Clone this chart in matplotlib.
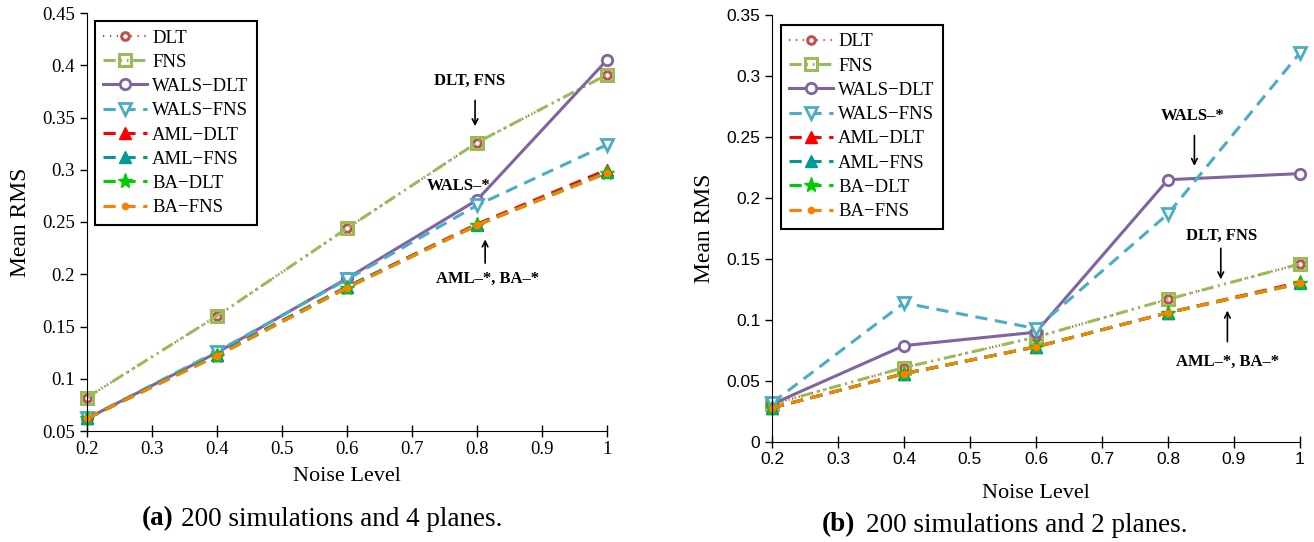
import numpy as np
import matplotlib.pyplot as plt

# noise levels on the x axis
noise = [0.2, 0.4, 0.6, 0.8, 1.0]

# (a) 200 simulations, 4 planes
a_dlt = [0.082, 0.160, 0.244, 0.326, 0.391]
a_fns = [0.082, 0.160, 0.244, 0.326, 0.391]
a_wals_dlt = [0.062, 0.125, 0.196, 0.271, 0.405]
a_wals_fns = [0.062, 0.126, 0.195, 0.266, 0.324]
a_aml_dlt = [0.062, 0.123, 0.188, 0.248, 0.300]
a_aml_fns = [0.062, 0.123, 0.188, 0.247, 0.298]
a_ba_dlt = [0.062, 0.122, 0.187, 0.247, 0.297]
a_ba_fns = [0.062, 0.122, 0.187, 0.247, 0.297]

# (b) 200 simulations, 2 planes
b_dlt = [0.031, 0.061, 0.086, 0.117, 0.146]
b_fns = [0.031, 0.061, 0.086, 0.117, 0.146]
b_wals_dlt = [0.031, 0.079, 0.090, 0.215, 0.220]
b_wals_fns = [0.032, 0.114, 0.093, 0.187, 0.319]
b_aml_dlt = [0.028, 0.056, 0.078, 0.106, 0.131]
b_aml_fns = [0.028, 0.056, 0.078, 0.106, 0.130]
b_ba_dlt = [0.028, 0.056, 0.078, 0.106, 0.130]
b_ba_fns = [0.028, 0.056, 0.078, 0.106, 0.130]

names = ['DLT', 'FNS', 'WALS\u2212DLT', 'WALS\u2212FNS',
         'AML\u2212DLT', 'AML\u2212FNS', 'BA\u2212DLT', 'BA\u2212FNS']

# line styles per method
styles = [
    dict(color='#c0504d', ls=(0, (0.6, 2.5)), lw=1.6, marker='o', ms=5.5, mfc='white', mew=2.2),
    dict(color='#9bbb59', ls=(0, (4, 1.5, 0.6, 1.5, 0.6, 1.5)), lw=2.2, marker='s', ms=8, mfc='none', mew=2.2),
    dict(color='#8064a2', ls='-', lw=2.2, marker='o', ms=7.5, mfc='white', mew=2.0),
    dict(color='#4bacc6', ls=(0, (4, 2.5)), lw=2.2, marker='v', ms=8.5, mfc='white', mew=2.0),
    dict(color='#ff0000', ls=(0, (4, 2.5)), lw=2.2, marker='^', ms=8.5, mfc='#ff0000', mew=1),
    dict(color='#009999', ls=(0, (4, 2.5)), lw=2.2, marker='^', ms=8.5, mfc='#009999', mew=1),
    dict(color='#00cc00', ls=(0, (4, 2.5)), lw=2.2, marker='*', ms=11, mfc='#00cc00', mew=1),
    dict(color='#ff7f00', ls=(0, (4, 2.5)), lw=2.2, marker='o', ms=4.5, mfc='#ff7f00', mew=1),
]

serif = 'Liberation Serif'
sans = 'Liberation Sans'

fig = plt.figure(figsize=(13.14, 5.42), dpi=100)
W, H = 1314, 542


def px_axes(x0, x1, ytop, ybot):
    return fig.add_axes([x0 / W, 1 - ybot / H, (x1 - x0) / W, (ybot - ytop) / H])


def draw(ax, series, tickfont, tsize):
    for vals, name, st in zip(series, names, styles):
        ax.plot(noise, vals, label=name, clip_on=False, **st)
    for s in ['top', 'right']:
        ax.spines[s].set_visible(False)
    ax.set_xlim(0.2, 1.0)
    ax.set_xticks([0.2, 0.3, 0.4, 0.5, 0.6, 0.7, 0.8, 0.9, 1.0])
    ax.set_xticklabels(['0.2', '0.3', '0.4', '0.5', '0.6', '0.7', '0.8', '0.9', '1'])
    for lab in ax.get_xticklabels() + ax.get_yticklabels():
        lab.set_fontfamily(tickfont)
        lab.set_fontsize(tsize)
    ax.tick_params(axis='y', direction='out', length=5, width=1)
    ax.tick_params(axis='x', direction='inout', length=8, width=1)
    ax.set_xlabel('Noise Level', fontfamily=serif, fontsize=16)
    ax.set_ylabel('Mean RMS', fontfamily=serif, fontsize=17)
    leg = ax.legend(loc='upper left', borderaxespad=0,
                    prop={'family': serif, 'size': 13.5}, handlelength=2.3,
                    handletextpad=0.3, fancybox=False, edgecolor='black',
                    framealpha=1, labelspacing=0.38, borderpad=0.45)
    leg.get_frame().set_linewidth(1.5)
    return leg


bold = dict(fontfamily=serif, fontweight='bold', fontsize=12, ha='center', va='center')
arr = dict(arrowstyle='->', color='black', lw=1.2)

# ---- (a) ----
ax1 = px_axes(87, 607, 13, 431)
ax1.set_ylim(0.05, 0.45)
ax1.set_yticks([0.05, 0.1, 0.15, 0.2, 0.25, 0.3, 0.35, 0.4, 0.45])
ax1.set_yticklabels(['0.05', '0.1', '0.15', '0.2', '0.25', '0.3', '0.35', '0.4', '0.45'])
leg1 = draw(ax1, [a_dlt, a_fns, a_wals_dlt, a_wals_fns, a_aml_dlt, a_aml_fns, a_ba_dlt, a_ba_fns],
            serif, 13.5)
leg1.set_bbox_to_anchor((0.0155, 0.981), transform=ax1.transAxes)
ax1.xaxis.labelpad = 6
ax1.yaxis.labelpad = 8

ax1.text(0.789, 0.385, 'DLT, FNS', **bold)
ax1.annotate('', xy=(0.797, 0.339), xytext=(0.797, 0.369), arrowprops=arr)
ax1.text(0.772, 0.284, 'WALS\u2013*', **bold)
ax1.text(0.817, 0.196, 'AML\u2013*, BA\u2013*', **bold)
ax1.annotate('', xy=(0.8125, 0.236), xytext=(0.8125, 0.208), arrowprops=arr)

# ---- (b) ----
ax2 = px_axes(772, 1300, 15, 442)
ax2.set_ylim(0, 0.35)
ax2.set_yticks([0, 0.05, 0.1, 0.15, 0.2, 0.25, 0.3, 0.35])
ax2.set_yticklabels(['0', '0.05', '0.1', '0.15', '0.2', '0.25', '0.3', '0.35'])
leg2 = draw(ax2, [b_dlt, b_fns, b_wals_dlt, b_wals_fns, b_aml_dlt, b_aml_fns, b_ba_dlt, b_ba_fns],
            sans, 12.5)
leg2.set_bbox_to_anchor((0.017, 0.977), transform=ax2.transAxes)
ax2.xaxis.labelpad = 12
ax2.yaxis.labelpad = 8

ax2.text(0.838, 0.267, 'WALS\u2013*', **bold)
ax2.annotate('', xy=(0.84, 0.224), xytext=(0.84, 0.2535), arrowprops=arr)
ax2.text(0.882, 0.169, 'DLT, FNS', **bold)
ax2.annotate('', xy=(0.88, 0.131), xytext=(0.88, 0.161), arrowprops=arr)
ax2.text(0.89, 0.0656, 'AML\u2013*, BA\u2013*', **bold)
ax2.annotate('', xy=(0.89, 0.110), xytext=(0.89, 0.080), arrowprops=arr)

# captions
cap = dict(fontfamily=serif, fontsize=19.5, va='center', ha='left')
fig.text(142 / W, 1 - 519 / H, '(a)', fontweight='bold', **cap)
fig.text(181 / W, 1 - 519 / H, '200 simulations and 4 planes.', **cap)
fig.text(822 / W, 1 - 525 / H, '(b)', fontweight='bold', **cap)
fig.text(866 / W, 1 - 525 / H, '200 simulations and 2 planes.', **cap)

fig.savefig('out.png', dpi=100)
